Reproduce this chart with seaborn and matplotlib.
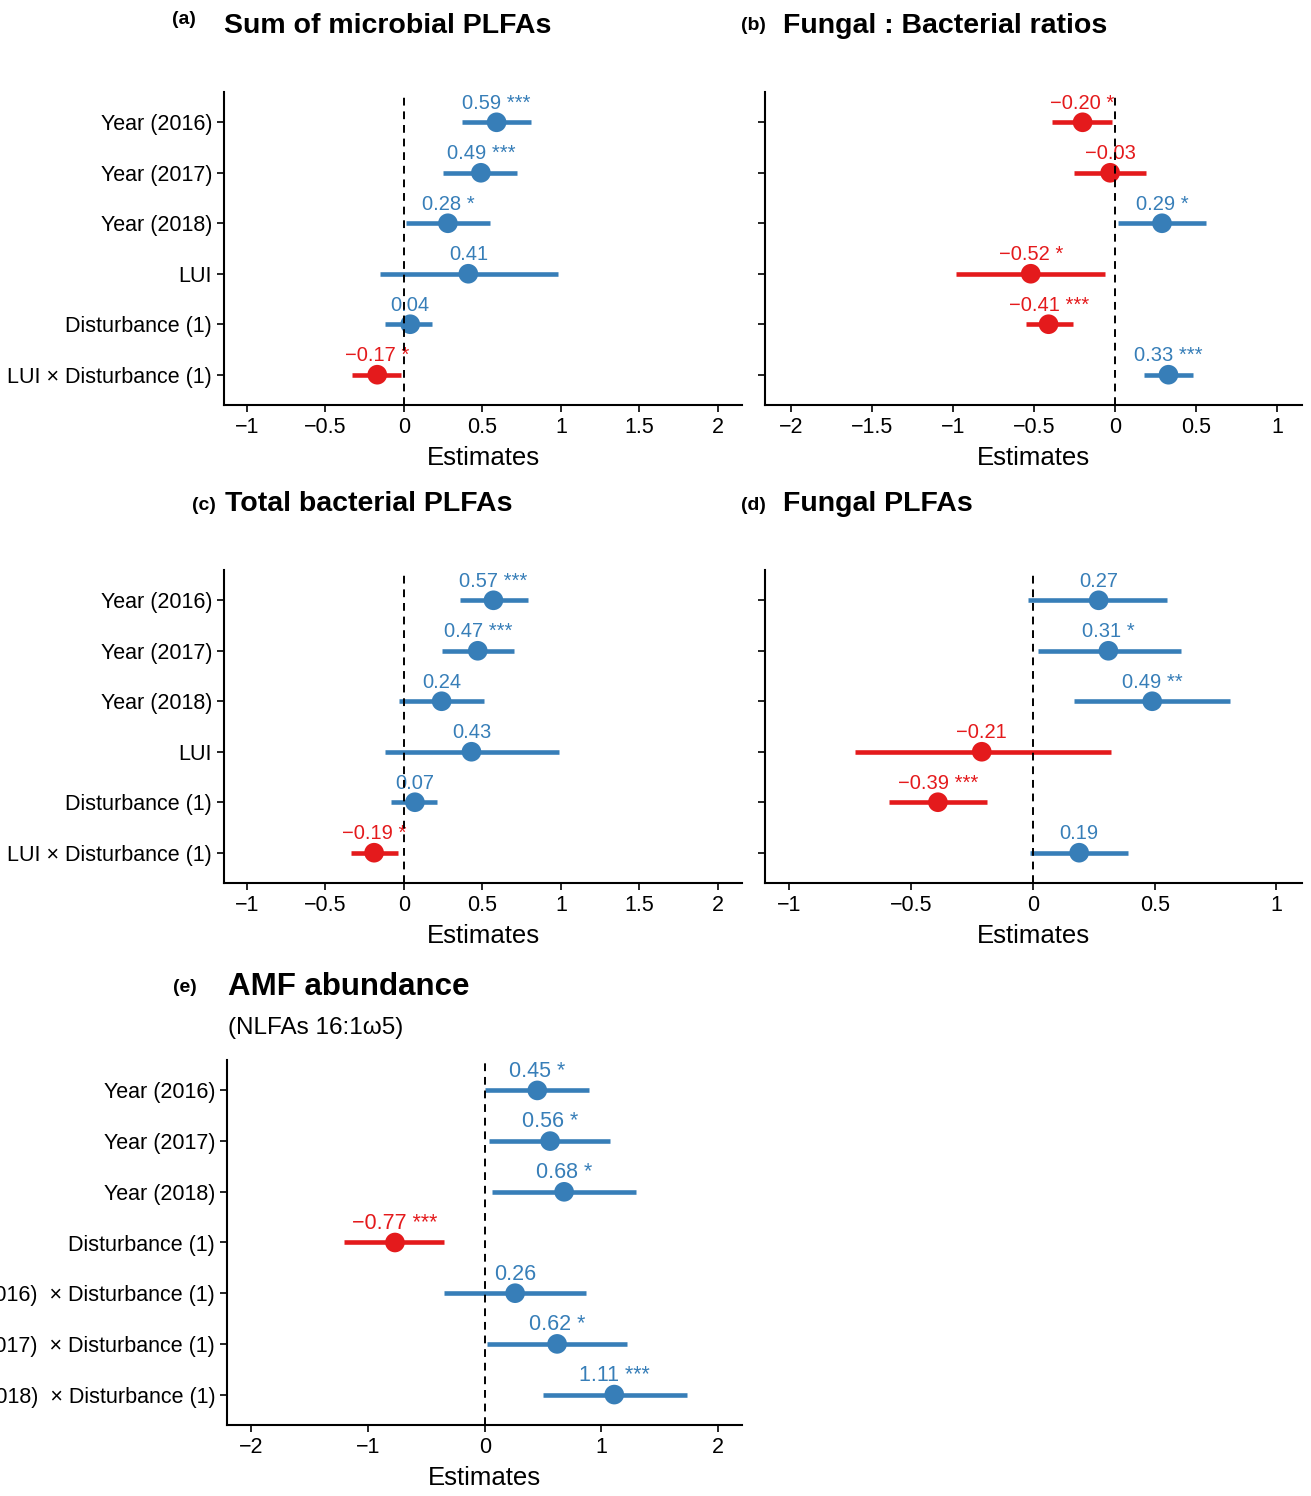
import numpy as np
import pandas as pd
import matplotlib
matplotlib.use("Agg")
import matplotlib.pyplot as plt
import seaborn as sns

sns.set_style("ticks")
plt.rcParams['font.family'] = ['Liberation Sans', 'DejaVu Sans']
plt.rcParams['text.color'] = 'black'
plt.rcParams['axes.labelcolor'] = 'black'

BLUE = '#377EB8'
RED = '#E41A1C'
W, H = 1311, 1496

# ---- data ----
terms_main = ['Year (2016)', 'Year (2017)', 'Year (2018)', 'LUI',
              'Disturbance (1)', 'LUI × Disturbance (1)']
terms_amf = ['Year (2016)', 'Year (2017)', 'Year (2018)', 'Disturbance (1)',
             'Year (2016)  × Disturbance (1)', 'Year (2017)  × Disturbance (1)',
             'Year (2018)  × Disturbance (1)']

# (a) Sum of microbial PLFAs
est_a = [0.59, 0.49, 0.28, 0.41, 0.04, -0.17]
lo_a = [0.37, 0.25, 0.01, -0.15, -0.12, -0.33]
hi_a = [0.81, 0.72, 0.55, 0.98, 0.18, -0.02]
sig_a = ['***', '***', '*', '', '', '*']

# (b) Fungal : Bacterial ratios
est_b = [-0.20, -0.03, 0.29, -0.52, -0.41, 0.33]
lo_b = [-0.39, -0.25, 0.02, -0.98, -0.55, 0.18]
hi_b = [-0.02, 0.19, 0.56, -0.06, -0.26, 0.48]
sig_b = ['*', '', '*', '*', '***', '***']

# (c) Total bacterial PLFAs
est_c = [0.57, 0.47, 0.24, 0.43, 0.07, -0.19]
lo_c = [0.36, 0.24, -0.03, -0.12, -0.08, -0.34]
hi_c = [0.79, 0.70, 0.51, 0.99, 0.21, -0.04]
sig_c = ['***', '***', '', '', '', '*']

# (d) Fungal PLFAs
est_d = [0.27, 0.31, 0.49, -0.21, -0.39, 0.19]
lo_d = [-0.02, 0.02, 0.17, -0.73, -0.59, -0.01]
hi_d = [0.55, 0.61, 0.81, 0.32, -0.19, 0.39]
sig_d = ['', '*', '**', '', '***', '']

# (e) AMF abundance
est_e = [0.45, 0.56, 0.68, -0.77, 0.26, 0.62, 1.11]
lo_e = [0.00, 0.04, 0.06, -1.21, -0.35, 0.02, 0.50]
hi_e = [0.89, 1.07, 1.30, -0.35, 0.87, 1.22, 1.73]
sig_e = ['*', '*', '*', '***', '', '*', '***']


def px_rect(x0, y0, x1, y1):
    return [x0 / W, 1 - y1 / H, (x1 - x0) / W, (y1 - y0) / H]


def forest(rect, terms, est, lo, hi, sig, xlim, xticks, show_labels=True,
           val_size=14.5):
    ax = fig.add_axes(rect)
    df = pd.DataFrame({'term': terms, 'est': est, 'lo': lo, 'hi': hi, 'sig': sig})
    df['pos'] = np.arange(len(df))
    df['dir'] = np.where(df['est'] >= 0, 'pos', 'neg')
    pal = {'pos': BLUE, 'neg': RED}
    ax.hlines(df['pos'], df['lo'], df['hi'], colors=df['dir'].map(pal),
              linewidth=3.3, zorder=2)
    sns.scatterplot(data=df, x='est', y='pos', hue='dir', palette=pal, s=200,
                    edgecolor='none', legend=False, ax=ax, zorder=3)
    for _, r in df.iterrows():
        lab = f"{r['est']:.2f}".replace('-', '\u2212')
        if r['sig']:
            lab += ' ' + r['sig']
        ax.text(r['est'], r['pos'] - 0.27, lab, color=pal[r['dir']],
                ha='center', va='baseline', fontsize=val_size, zorder=4)
    ax.axvline(0, color='black', linestyle=(0, (4, 3)), linewidth=1.4, zorder=5)
    ax.set_ylim(len(df) - 0.4, -0.6)
    ax.set_xlim(*xlim)
    ax.set_xticks(xticks)
    ax.set_xticklabels([f"{t:g}".replace('-', '\u2212') for t in xticks])
    ax.set_yticks(df['pos'])
    ax.set_yticklabels(df['term'] if show_labels else [])
    ax.set_ylabel('')
    ax.set_xlabel('Estimates', fontsize=18.5, labelpad=6)
    ax.tick_params(axis='both', labelsize=15.5, length=5, width=1.2, color='black',
                   labelcolor='black')
    sns.despine(ax=ax)
    for s in ['left', 'bottom']:
        ax.spines[s].set_linewidth(1.5)
        ax.spines[s].set_color('black')
    return ax


fig = plt.figure(figsize=(W / 100, H / 100), dpi=100)

forest(px_rect(224, 92, 742, 405), terms_main, est_a, lo_a, hi_a, sig_a,
       (-1.146, 2.153), [-1, -0.5, 0, 0.5, 1, 1.5, 2])
forest(px_rect(765, 92, 1302, 405), terms_main, est_b, lo_b, hi_b, sig_b,
       (-2.16, 1.154), [-2, -1.5, -1, -0.5, 0, 0.5, 1], show_labels=False)
forest(px_rect(224, 570, 742, 883), terms_main, est_c, lo_c, hi_c, sig_c,
       (-1.146, 2.153), [-1, -0.5, 0, 0.5, 1, 1.5, 2])
forest(px_rect(765, 570, 1302, 883), terms_main, est_d, lo_d, hi_d, sig_d,
       (-1.10, 1.105), [-1, -0.5, 0, 0.5, 1], show_labels=False)
forest(px_rect(227, 1060, 742, 1425), terms_amf, est_e, lo_e, hi_e, sig_e,
       (-2.21, 2.205), [-2, -1, 0, 1, 2], val_size=15.5)

# panel titles
def ftext(x, y, s, **kw):
    fig.text(x / W, 1 - y / H, s, va='center', color='black', **kw)

ftext(172, 19, '(a)', fontsize=14, fontweight='bold')
ftext(224, 26, 'Sum of microbial PLFAs', fontsize=20.5, fontweight='bold')
ftext(741, 25, '(b)', fontsize=14, fontweight='bold')
ftext(783, 26, 'Fungal : Bacterial ratios', fontsize=20.5, fontweight='bold')
ftext(192, 505, '(c)', fontsize=14, fontweight='bold')
ftext(225, 504, 'Total bacterial PLFAs', fontsize=20.5, fontweight='bold')
ftext(741, 505, '(d)', fontsize=14, fontweight='bold')
ftext(783, 504, 'Fungal PLFAs', fontsize=20.5, fontweight='bold')
ftext(173, 987, '(e)', fontsize=14, fontweight='bold')
ftext(228, 987, 'AMF abundance', fontsize=22.5, fontweight='bold')
ftext(228, 1028, '(NLFAs 16:1\u03c95)', fontsize=17.5)

fig.savefig('out.png', dpi=100)
